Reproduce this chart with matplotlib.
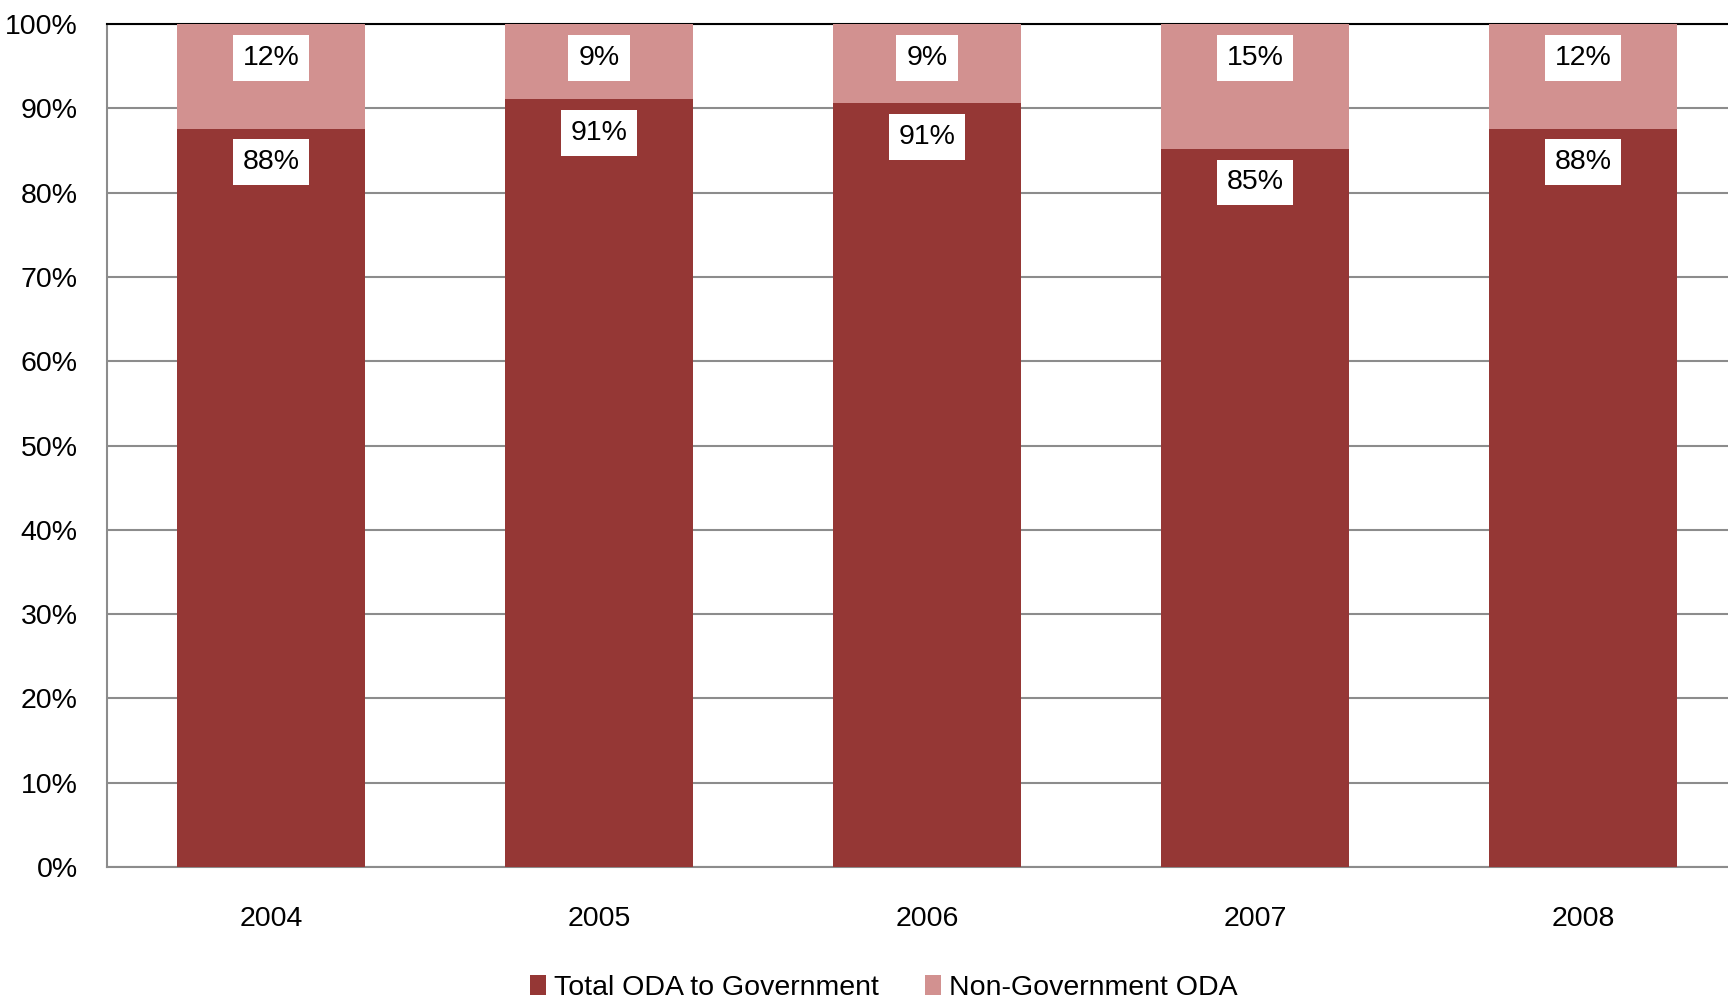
import matplotlib
matplotlib.use("Agg")
import matplotlib.pyplot as plt
import numpy as np

years = ['2004', '2005', '2006', '2007', '2008']
gov = [87.6, 91.1, 90.6, 85.2, 87.6]
non_gov = [12.4, 8.9, 9.4, 14.8, 12.4]
gov_labels = ['88%', '91%', '91%', '85%', '88%']
non_gov_labels = ['12%', '9%', '9%', '15%', '12%']

plt.rcParams['font.family'] = ['Liberation Sans', 'DejaVu Sans']

dark = '#953735'
light = '#D29190'

fig = plt.figure(figsize=(17.28, 10), dpi=100)
# axes runs slightly past the right edge, as in the original
ax = fig.add_axes([107 / 1728, 1 - 867 / 1000, 1640 / 1728, 843 / 1000])

x = np.arange(len(years))
width = 0.573
ax.bar(x, gov, width, color=dark, label='Total ODA to Government', zorder=3)
ax.bar(x, non_gov, width, bottom=gov, color=light, label='Non-Government ODA', zorder=3)

box = dict(boxstyle='square,pad=0.35', facecolor='white', edgecolor='none')
for i in range(len(years)):
    ax.text(x[i], gov[i] - 4.0, gov_labels[i], ha='center', va='center',
            fontsize=20.5, bbox=box, zorder=4)
    ax.text(x[i], 100 - 4.0, non_gov_labels[i], ha='center', va='center',
            fontsize=20.5, bbox=box, zorder=4)

ax.set_xlim(-0.5, len(years) - 0.5)
ax.set_ylim(0, 100)
ax.set_yticks(np.arange(0, 101, 10))
ax.set_yticklabels([f'{v}%' for v in range(0, 101, 10)])
ax.set_xticks(x)
ax.set_xticklabels(years)
ax.tick_params(axis='y', length=0, pad=21, labelsize=20.5)
ax.tick_params(axis='x', length=0, pad=28, labelsize=20.5)

ax.grid(axis='y', color='#8c8c8c', linewidth=1.5, zorder=0)
ax.spines['right'].set_visible(False)
ax.spines['top'].set_color('black')
ax.spines['top'].set_linewidth(1.5)
ax.spines['left'].set_color('#8c8c8c')
ax.spines['left'].set_linewidth(1.5)
ax.spines['bottom'].set_color('#8c8c8c')
ax.spines['bottom'].set_linewidth(1.5)

fig.legend(loc='center', bbox_to_anchor=(884 / 1728, 0.012), ncol=2,
           frameon=False, fontsize=20.5, handlelength=0.55, handleheight=0.7,
           handletextpad=0.3, columnspacing=1.6)

fig.savefig('out.png', dpi=100)
